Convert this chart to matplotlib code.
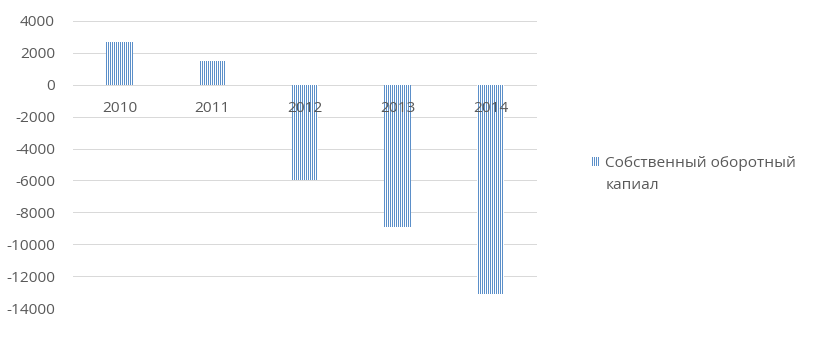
import numpy as np
import matplotlib
matplotlib.use("Agg")
import matplotlib.pyplot as plt
import matplotlib.hatch as mhatch
from matplotlib.path import Path
from matplotlib.patches import Rectangle
from matplotlib.legend_handler import HandlerPatch

categories = ["2010", "2011", "2012", "2013", "2014"]
values = [2700, 1500, -6000, -8950, -13100]
series_name = "Собственный оборотный\nкапиал"
yticks = [4000, 2000, 0, -2000, -4000, -6000, -8000, -10000, -12000, -14000]

DPI = 120


# put the vertical hatch lines on pixel centres so they render as crisp 1 px stripes
def _vert_set_vertices_and_codes(self, vertices, codes):
    steps = np.linspace(0.0, 1.0, self.num_lines, False) + 0.25 / self.num_lines
    vertices[0::2, 0] = steps
    vertices[0::2, 1] = 0.0
    vertices[1::2, 0] = steps
    vertices[1::2, 1] = 1.0
    codes[0::2] = Path.MOVETO
    codes[1::2] = Path.LINETO


mhatch.VerticalHatch.set_vertices_and_codes = _vert_set_vertices_and_codes

plt.rcParams['font.family'] = ['Open Sans', 'DejaVu Sans']
plt.rcParams['hatch.linewidth'] = 72 / DPI  # 1 px
text_color = '#595959'
bar_color = '#5B8FC9'
grid_color = '#D9D9D9'
FS = 9.2
PX = 72 / DPI  # one pixel in points

fig = plt.figure(figsize=(830 / DPI, 345 / DPI), dpi=DPI)
ax = fig.add_axes([73/830, 1-308/345, (537-73)/830, (308-21)/345])

x = list(range(len(categories)))
bars = ax.bar(x, values, width=0.29, facecolor='white', edgecolor=bar_color,
              linewidth=0, hatch='|' * 10, zorder=2, label=series_name)

ax.set_xlim(-0.5, len(categories) - 0.5)
ax.set_ylim(-14000, 4000)
ax.set_yticks(yticks)
ax.set_yticklabels([str(v) for v in yticks])
ax.set_xticks([])
ax.set_axisbelow(True)
ax.grid(axis='y', color=grid_color, linewidth=PX)
for s in ax.spines.values():
    s.set_visible(False)
ax.tick_params(axis='y', length=0, pad=18 * PX, labelsize=FS, labelcolor=text_color)

for xi, cat in zip(x, categories):
    ax.annotate(cat, xy=(xi, 0), xytext=(0, -16.5 * PX), textcoords='offset points',
                ha='center', va='top', fontsize=FS, color=text_color, zorder=5)


def make_patch(legend, orig_handle, xdescent, ydescent, width, height, fontsize):
    return Rectangle((-xdescent, -ydescent + 13 * PX), width, height)


leg = fig.legend(handles=[bars.patches[0]], labels=[series_name],
                 loc='upper left', bbox_to_anchor=(577/830, 1-142/345),
                 frameon=False, fontsize=FS, labelcolor=text_color,
                 handlelength=0.6, handleheight=0.55, handletextpad=0.35,
                 handler_map={Rectangle: HandlerPatch(patch_func=make_patch)})
for t in leg.get_texts():
    t.set_linespacing(1.7)

fig.savefig("out.png", dpi=DPI)
